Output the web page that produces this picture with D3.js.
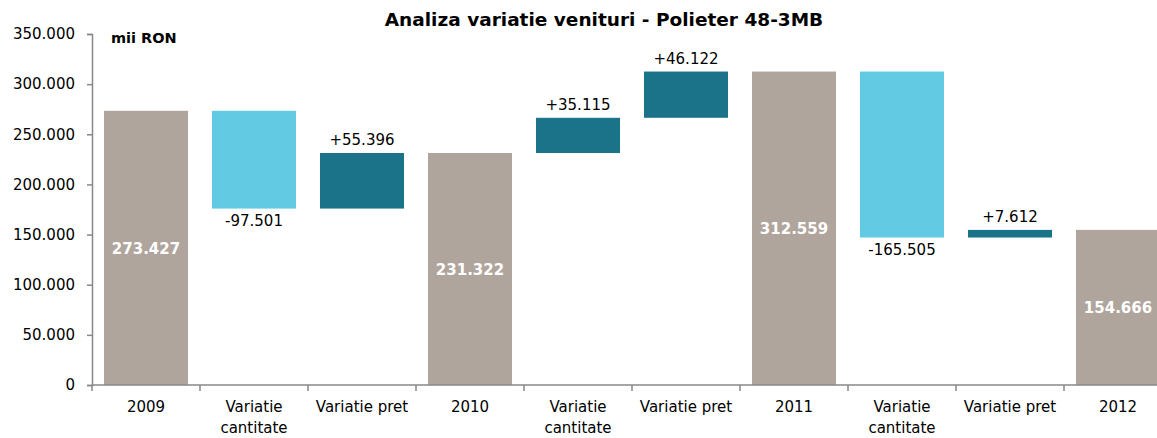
<!DOCTYPE html>
<meta charset="utf-8">
<head>
<script src="https://cdn.jsdelivr.net/npm/d3@7"></script>
<style>
  body { margin: 0; background: #fff; }
  text { font-family: "DejaVu Sans", sans-serif; }
</style>
</head>
<body>
<svg id="chart"></svg>
<script>

  // date (mii RON)
  var categories = ["2009", "Variatie cantitate", "Variatie pret", "2010", "Variatie cantitate", "Variatie pret", "2011", "Variatie cantitate", "Variatie pret", "2012"];
  var values = [273427, -97501, 55396, 231322, 35115, 46122, 312559, -165505, 7612, 154666];
  var kinds = ["total", "delta", "delta", "total", "delta", "delta", "total", "delta", "delta", "total"];
  var yTicks = [0, 50000, 100000, 150000, 200000, 250000, 300000, 350000];

  var width = 1157,
      height = 438;

  var ro = d3.formatLocale({decimal: ",", thousands: ".", grouping: [3], currency: ["", " RON"], minus: "-"});
  var fmt = ro.format(",");
  var fmtSign = ro.format("+,");

  var svg = d3.select("#chart")
      .attr("width", width)
      .attr("height", height);

  // index-uri unice pt banda, categoriile se repeta
  var x = d3.scaleBand()
      .domain(d3.range(categories.length))
      .range([92, 1172])
      .paddingInner(0.222)
      .paddingOuter(0.111);

  var y = d3.scaleLinear()
      .domain([0, 350000])
      .range([385, 34]);

  // calcul cascada
  var running = 0;
  var bars = values.map(function(v, i){
    var b = {i: i, value: v, kind: kinds[i]};
    if (kinds[i] == "total") {
      b.y0 = 0; b.y1 = v; running = v;
    } else {
      b.y0 = running; b.y1 = running + v; running = running + v;
    }
    return b;
  });

  function color(b){
    if (b.kind == "total") return "#b0a59d";
    return b.value < 0 ? "#62cae3" : "#1a7389";
  }

  svg.append("g").selectAll("rect")
    .data(bars)
    .enter().append("rect")
    .attr("x", function(d){ return x(d.i); })
    .attr("width", x.bandwidth())
    .attr("y", function(d){ return y(Math.max(d.y0, d.y1)); })
    .attr("height", function(d){ return Math.abs(y(d.y0) - y(d.y1)); })
    .attr("fill", color);

  // axa y
  var yAxis = svg.append("g")
    .attr("transform", "translate(92,0)")
    .call(d3.axisLeft(y).tickValues(yTicks).tickSize(5).tickPadding(12).tickFormat(fmt));
  yAxis.select(".domain").attr("stroke", "#888").attr("stroke-width", 1.5);
  yAxis.selectAll(".tick line").attr("stroke", "#888").attr("stroke-width", 1.5);
  yAxis.selectAll(".tick text").attr("font-size", 15).attr("fill", "#000")
    .attr("font-family", "DejaVu Sans, sans-serif");

  // axa x
  svg.append("line")
    .attr("x1", 92).attr("x2", width)
    .attr("y1", y(0)).attr("y2", y(0))
    .attr("stroke", "#888").attr("stroke-width", 1.5);

  svg.append("g").selectAll("line")
    .data(d3.range(categories.length + 1))
    .enter().append("line")
    .attr("x1", function(i){ return 92 + i * x.step(); })
    .attr("x2", function(i){ return 92 + i * x.step(); })
    .attr("y1", y(0)).attr("y2", y(0) + 6)
    .attr("stroke", "#888").attr("stroke-width", 1.5);

  var xl = svg.append("g").selectAll("text")
    .data(categories)
    .enter().append("text")
    .attr("x", function(d, i){ return x(i) + x.bandwidth() / 2; })
    .attr("y", 412)
    .attr("text-anchor", "middle")
    .attr("font-size", 15)
    .attr("fill", "#000");
  xl.each(function(d){
    var t = d3.select(this);
    var words = d.split(" ");
    if (d == "Variatie pret") words = [d];
    words.forEach(function(w, k){
      t.append("tspan").attr("x", t.attr("x")).attr("dy", k == 0 ? 0 : 21).text(w);
    });
  });

  // etichete valori
  svg.append("g").selectAll("text")
    .data(bars)
    .enter().append("text")
    .attr("x", function(d){ return x(d.i) + x.bandwidth() / 2; })
    .attr("y", function(d){
      if (d.kind == "total") return y(d.value / 2) + 6;
      if (d.value < 0) return y(d.y1) + 17;
      return y(d.y1) - 8;
    })
    .attr("text-anchor", "middle")
    .attr("font-size", 15)
    .attr("font-weight", function(d){ return d.kind == "total" ? "bold" : "normal"; })
    .attr("fill", function(d){ return d.kind == "total" ? "#fff" : "#000"; })
    .text(function(d){ return d.kind == "total" ? fmt(d.value) : fmtSign(d.value); });

  svg.append("text")
    .attr("x", 604).attr("y", 26)
    .attr("text-anchor", "middle")
    .attr("font-size", 18.5)
    .attr("font-weight", "bold")
    .text("Analiza variatie venituri - Polieter 48-3MB");

  svg.append("text")
    .attr("x", 111).attr("y", 43)
    .attr("font-size", 14.5)
    .attr("font-weight", "bold")
    .text("mii RON");

</script>
</body>
